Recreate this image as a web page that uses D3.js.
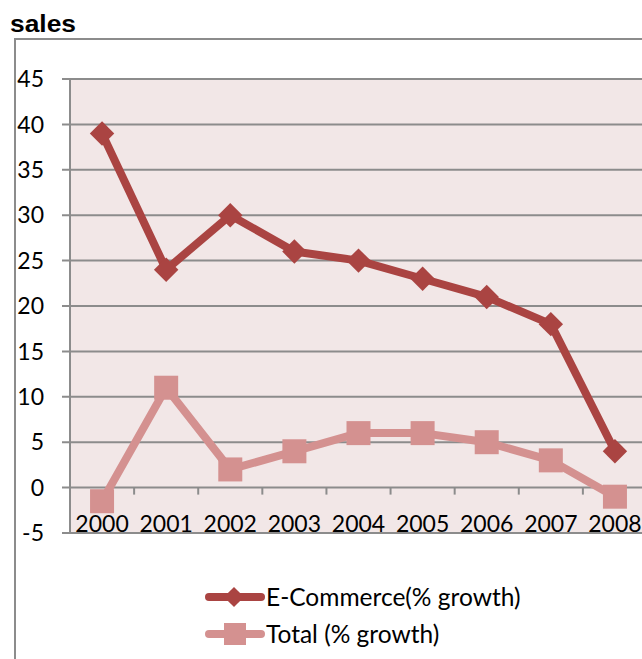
<!DOCTYPE html>
<html>
<head>
<meta charset="utf-8">
<script src="https://cdn.jsdelivr.net/npm/d3@7"></script>
<style>
  body { margin: 0; background: #fff; }
  svg { display: block; }
</style>
</head>
<body>
<script>
const width = 642
const height = 659

const years = ["2000", "2001", "2002", "2003", "2004", "2005", "2006", "2007", "2008"]
const ecommerce = [39, 24, 30, 26, 25, 23, 21, 18, 4]
const total = [-1.5, 11, 2, 4, 6, 6, 5, 3, -1]
const yTicks = [-5, 0, 5, 10, 15, 20, 25, 30, 35, 40, 45]
const seriesNames = ["E-Commerce(% growth)", "Total (% growth)"]

const font = "Lato, 'Open Sans', sans-serif"
const gridColor = "#8c8c8c"

const svg = d3
    .select("body")
    .append("svg")
    .attr("width", width)
    .attr("height", height)

// outer chart frame (cut off at right and bottom)
svg.append("path")
    .attr("d", `M15,${height + 2} V39 H${width + 2}`)
    .attr("fill", "none")
    .attr("stroke", gridColor)
    .attr("stroke-width", 2)

svg.append("text")
    .attr("x", 10)
    .attr("y", 32)
    .attr("font-family", "'Liberation Sans', Arial, sans-serif")
    .attr("font-weight", "bold")
    .attr("font-size", 24)
    .attr("textLength", 66)
    .attr("lengthAdjust", "spacingAndGlyphs")
    .text("sales")

const plotLeft = 70
const plotRight = 647
const plotTop = 79
const plotBottom = 533

const x = d3.scaleBand().domain(years).range([plotLeft, plotRight]).padding(0)
const y = d3.scaleLinear().domain([-5, 45]).range([plotBottom, plotTop])
const cx = (d) => x(d) + x.bandwidth() / 2

svg.append("rect")
    .attr("x", plotLeft)
    .attr("y", plotTop)
    .attr("width", plotRight - plotLeft)
    .attr("height", plotBottom - plotTop)
    .attr("fill", "#f2e7e7")

// gridlines + left ticks
svg.append("g")
    .selectAll("line")
    .data(yTicks)
    .join("line")
    .attr("x1", plotLeft - 8)
    .attr("x2", plotRight)
    .attr("y1", (d) => y(d))
    .attr("y2", (d) => y(d))
    .attr("stroke", gridColor)
    .attr("stroke-width", 2)

svg.append("line")
    .attr("x1", plotLeft)
    .attr("x2", plotLeft)
    .attr("y1", plotTop)
    .attr("y2", plotBottom)
    .attr("stroke", gridColor)
    .attr("stroke-width", 2)

svg.append("g")
    .selectAll("text")
    .data(yTicks)
    .join("text")
    .attr("x", 44)
    .attr("y", (d) => y(d))
    .attr("dy", "0.36em")
    .attr("text-anchor", "end")
    .attr("font-family", font)
    .attr("font-size", 23)
    .attr("fill", "#000")
    .text((d) => d)

// x tick marks on the zero line
svg.append("g")
    .selectAll("line")
    .data(years.slice(1))
    .join("line")
    .attr("x1", (d) => x(d))
    .attr("x2", (d) => x(d))
    .attr("y1", y(0))
    .attr("y2", y(0) + 7)
    .attr("stroke", gridColor)
    .attr("stroke-width", 2)

svg.append("g")
    .selectAll("text")
    .data(years)
    .join("text")
    .attr("x", cx)
    .attr("y", 532)
    .attr("text-anchor", "middle")
    .attr("font-family", font)
    .attr("font-size", 23)
    .attr("fill", "#000")
    .text((d) => d)

const colors = ["#aa4442", "#d49190"]

const line = d3
    .line()
    .x((d, i) => cx(years[i]))
    .y((d) => y(d))

const diamond = d3.symbol().type(d3.symbolDiamond2).size(380)

// Total series
svg.append("path")
    .datum(total)
    .attr("d", line)
    .attr("fill", "none")
    .attr("stroke", colors[1])
    .attr("stroke-width", 8)
    .attr("stroke-linejoin", "round")

svg.append("g")
    .selectAll("rect")
    .data(total)
    .join("rect")
    .attr("x", (d, i) => cx(years[i]) - 12)
    .attr("y", (d) => y(d) - 12)
    .attr("width", 24)
    .attr("height", 24)
    .attr("fill", colors[1])

// E-Commerce series
svg.append("path")
    .datum(ecommerce)
    .attr("d", line)
    .attr("fill", "none")
    .attr("stroke", colors[0])
    .attr("stroke-width", 8)
    .attr("stroke-linejoin", "round")

svg.append("g")
    .selectAll("path")
    .data(ecommerce)
    .join("path")
    .attr("d", diamond)
    .attr("transform", (d, i) => `translate(${cx(years[i])},${y(d)})`)
    .attr("fill", colors[0])

// legend
const legend = svg
    .append("g")
    .selectAll("g")
    .data(seriesNames)
    .join("g")
    .attr("transform", (d, i) => `translate(205,${597 + i * 37})`)

legend.append("line")
    .attr("x1", 4)
    .attr("x2", 56)
    .attr("stroke", (d, i) => colors[i])
    .attr("stroke-width", 8)
    .attr("stroke-linecap", "round")

legend.each(function (d, i) {
    const g = d3.select(this)
    if (i === 0) {
        g.append("path")
            .attr("d", d3.symbol().type(d3.symbolDiamond2).size(260))
            .attr("transform", "translate(29,0)")
            .attr("fill", colors[0])
    } else {
        g.append("rect")
            .attr("x", 19)
            .attr("y", -11)
            .attr("width", 22)
            .attr("height", 22)
            .attr("fill", colors[1])
    }
})

legend.append("text")
    .attr("x", 61)
    .attr("dy", "0.36em")
    .attr("font-family", font)
    .attr("font-size", 24.5)
    .attr("fill", "#000")
    .text((d) => d)
</script>
</body>
</html>
